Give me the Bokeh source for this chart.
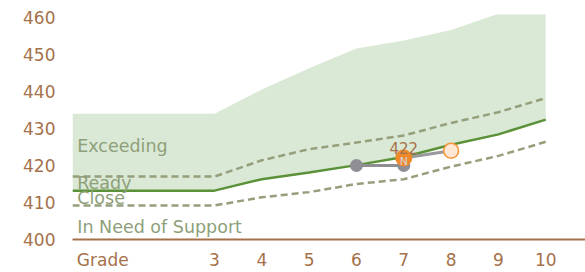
from bokeh.plotting import figure
from bokeh.models import FixedTicker, Range1d
from bokeh.core.properties import value
from bokeh.embed import file_html
from bokeh.resources import INLINE

# ---- data ----
grades = [0, 3, 4, 5, 6, 7, 8, 9, 10]
exceeding_top = [434, 434, 440.5, 446.3, 451.6, 453.8, 456.6, 461, 466]
ready_upper = [417, 417, 421.4, 424.4, 426.2, 428.1, 431.5, 434.4, 438.2]
ready_line = [413.2, 413.2, 416.3, 418.1, 420.1, 422.3, 425.6, 428.4, 432.4]
close_lower = [409.2, 409.2, 411.4, 412.8, 415.0, 416.3, 419.7, 422.6, 426.4]

region_labels = ["Exceeding", "Ready", "Close", "In Need of Support"]
region_label_y = [425.4, 415.2, 411.2, 403.5]
region_label_x = [0.1, 0.1, 0.1, 0.1]

past_grades = [6, 7]
past_scores = [420, 420]
current_grade = [7]
current_score = [422]
current_label = ["422"]
projected_grades = [7, 8]
projected_scores = [422, 424]

x_ticks = [0.64, 3, 4, 5, 6, 7, 8, 9, 10]
x_tick_labels = ["Grade", "3", "4", "5", "6", "7", "8", "9", "10"]
y_ticks = [400, 410, 420, 430, 440, 450, 460]

FONT = "DejaVu Sans"
BROWN = "#a5714a"
REGION_TXT = "#8e9f79"

p = figure(width=585, height=272, output_backend="svg", toolbar_location=None,
           x_range=Range1d(0, 10.84), y_range=Range1d(400, 460.8),
           min_border_left=72, min_border_right=0, min_border_top=14,
           min_border_bottom=31)
p.outline_line_color = None
p.grid.visible = False
p.background_fill_color = "white"
p.border_fill_color = "white"

# fill region
p.varea(x=grades, y1=ready_line, y2=exceeding_top, fill_color="#dae9d6", fill_alpha=1)

# lines
p.line(grades, ready_upper, line_color="#969f7c", line_width=2.5, line_dash="7 4")
p.line(grades, close_lower, line_color="#969f7c", line_width=2.5, line_dash="7 4")
p.line(grades, ready_line, line_color="#5b9138", line_width=2.5)

# region labels
p.text(x=region_label_x, y=region_label_y, text=region_labels,
       text_font=value(FONT), text_font_size="17.5px", text_color=REGION_TXT,
       text_baseline="middle", text_align="left")

# student path
p.line(past_grades, past_scores, line_color="#8e8e93", line_width=3)
p.line(projected_grades, projected_scores, line_color="#9a9a9e", line_width=3)
p.scatter(past_grades, past_scores, size=13, fill_color="#8e8e93", line_color=None)
p.scatter(projected_grades[1:], projected_scores[1:], size=15, fill_color="#fde6d2",
          line_color="#f3963a", line_width=1.5)
p.scatter(current_grade, current_score, size=17, fill_color="#ef8a2a", line_color=None)
p.text(x=current_grade, y=current_score, text=["N"], text_font=value(FONT),
       text_font_size="11px", text_color="#d8d4dc", text_align="center",
       text_baseline="middle", y_offset=3)
p.text(x=current_grade, y=current_score, text=current_label, text_font=value(FONT),
       text_font_size="15px", text_color=BROWN, text_align="center",
       text_baseline="bottom", y_offset=-4)

# axes
xa = p.xaxis[0]
xa.ticker = FixedTicker(ticks=x_ticks)
xa.major_label_overrides = {t: l for t, l in zip(x_ticks, x_tick_labels)}
xa.axis_line_color = BROWN
xa.axis_line_width = 2
xa.major_tick_line_color = None
xa.minor_tick_line_color = None
xa.major_tick_out = 0
xa.major_tick_in = 0
xa.major_label_standoff = 10
xa.major_label_text_font = FONT
xa.major_label_text_font_size = "17px"
xa.major_label_text_color = BROWN

ya = p.yaxis[0]
ya.ticker = FixedTicker(ticks=y_ticks)
ya.axis_line_color = None
ya.major_tick_line_color = None
ya.minor_tick_line_color = None
ya.major_tick_out = 0
ya.major_tick_in = 0
ya.major_label_standoff = 17
ya.major_label_text_font = FONT
ya.major_label_text_font_size = "17px"
ya.major_label_text_color = BROWN

open("out.html", "w").write(file_html(p, INLINE))
